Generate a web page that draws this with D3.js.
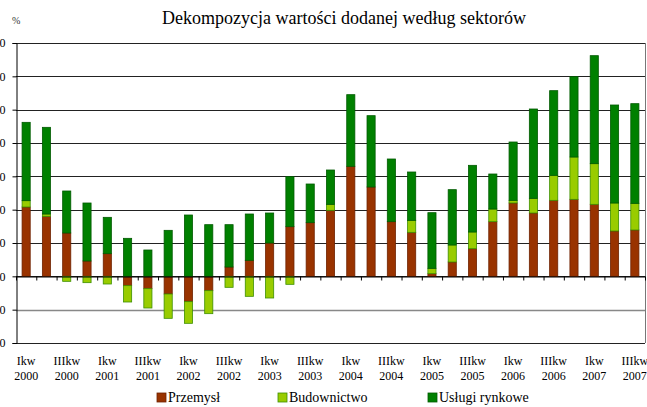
<!DOCTYPE html>
<html>
<head>
<meta charset="utf-8">
<script src="https://cdn.jsdelivr.net/npm/d3@7"></script>
<style>
  body { margin: 0; background: #fff; }
  svg { display: block; font-family: "Liberation Serif", "DejaVu Serif", serif; }
  svg text { font-family: "Liberation Serif", "DejaVu Serif", serif; }
  .axis text { font-size: 12px; fill: #000; }
</style>
</head>
<body>
<div id="chart"></div>
<script>
// kwartaly 2000Q1 - 2007Q3
const quarters = [
  'Ikw 2000', 'IIkw 2000', 'IIIkw 2000', 'IVkw 2000',
  'Ikw 2001', 'IIkw 2001', 'IIIkw 2001', 'IVkw 2001',
  'Ikw 2002', 'IIkw 2002', 'IIIkw 2002', 'IVkw 2002',
  'Ikw 2003', 'IIkw 2003', 'IIIkw 2003', 'IVkw 2003',
  'Ikw 2004', 'IIkw 2004', 'IIIkw 2004', 'IVkw 2004',
  'Ikw 2005', 'IIkw 2005', 'IIIkw 2005', 'IVkw 2005',
  'Ikw 2006', 'IIkw 2006', 'IIIkw 2006', 'IVkw 2006',
  'Ikw 2007', 'IIkw 2007', 'IIIkw 2007'
];

const przemysl = [2.08, 1.80, 1.30, 0.46, 0.68, -0.28, -0.37, -0.53, -0.76, -0.43, 0.28,
  0.48, 1.00, 1.49, 1.61, 1.98, 3.30, 2.68, 1.64, 1.32, 0.08, 0.43, 0.83, 1.64, 2.20,
  1.90, 2.28, 2.31, 2.16, 1.36, 1.39];
const budownictwo = [0.19, 0.07, -0.15, -0.19, -0.23, -0.49, -0.58, -0.73, -0.65, -0.69, -0.33,
  -0.60, -0.65, -0.24, 0.00, 0.18, 0.00, 0.00, 0.00, 0.36, 0.16, 0.51, 0.50, 0.38, 0.08,
  0.44, 0.75, 1.27, 1.22, 0.84, 0.80];
const uslugi = [2.35, 2.60, 1.26, 1.74, 1.09, 1.14, 0.79, 1.38, 1.84, 1.55, 1.27,
  1.39, 0.90, 1.50, 1.16, 1.03, 2.15, 2.14, 1.88, 1.45, 1.67, 1.66, 2.00, 1.05, 1.75,
  2.68, 2.54, 2.41, 3.24, 2.94, 2.99];

const seriesNames = ['Przemysł', 'Budownictwo', 'Usługi rynkowe'];
const yTicks = [-2, -1, 0, 1, 2, 3, 4, 5, 6, 7];

const colors = { 'Przemysł': '#993300', 'Budownictwo': '#99cc00', 'Usługi rynkowe': '#008000' };
const strokes = { 'Przemysł': '#6e2200', 'Budownictwo': '#3d8f00', 'Usługi rynkowe': '#005a00' };

const width = 647, height = 407;
const plot = { left: 16, right: 645, top: 43, bottom: 343 };

const svg = d3.select('#chart').append('svg')
  .attr('width', width)
  .attr('height', height);

const rows = quarters.map((q, i) => ({
  q: q,
  'Przemysł': przemysl[i],
  'Budownictwo': budownictwo[i],
  'Usługi rynkowe': uslugi[i]
}));

const stacked = d3.stack()
  .keys(seriesNames)
  .offset(d3.stackOffsetDiverging)(rows);

const x = d3.scaleBand()
  .domain(quarters)
  .range([plot.left, plot.right])
  .paddingInner(0.55)
  .paddingOuter(0.275);

const xEdges = d3.scaleLinear()
  .domain([0, quarters.length])
  .range([plot.left, plot.right]);

const y = d3.scaleLinear()
  .domain([-2, 7])
  .range([plot.bottom, plot.top]);

// title + unit
svg.append('text')
  .attr('x', 344)
  .attr('y', 24)
  .attr('text-anchor', 'middle')
  .style('font-size', '18px')
  .text('Dekompozycja wartości dodanej według sektorów');

svg.append('text')
  .attr('x', 12)
  .attr('y', 24)
  .style('font-size', '10px')
  .style('fill', '#333')
  .text('%');

// grid
svg.append('g')
  .selectAll('line')
  .data(yTicks)
  .join('line')
    .attr('x1', plot.left)
    .attr('x2', plot.right)
    .attr('y1', d => Math.round(y(d)) + 0.5)
    .attr('y2', d => Math.round(y(d)) + 0.5)
    .attr('stroke', d => d === -1 ? '#888' : '#222')
    .attr('stroke-width', d => d === -1 ? 1.5 : 1);

// right frame
svg.append('line')
  .attr('x1', plot.right + 0.5).attr('x2', plot.right + 0.5)
  .attr('y1', plot.top).attr('y2', plot.bottom)
  .attr('stroke', '#777');

// bars
const barGroup = svg.append('g');

barGroup.selectAll('g')
  .data(stacked)
  .join('g')
    .attr('fill', d => colors[d.key])
    .attr('stroke', d => strokes[d.key])
    .selectAll('rect')
    .data(d => d.filter(e => Math.abs(e[1] - e[0]) > 0.001))
    .join('rect')
      .attr('x', d => x(d.data.q) + 0.5)
      .attr('y', d => y(Math.max(d[0], d[1])))
      .attr('width', x.bandwidth() - 1)
      .attr('height', d => Math.abs(y(d[0]) - y(d[1])))
      .attr('stroke-width', 0.8);

// y axis
const yAxis = d3.axisLeft(y)
  .tickValues(yTicks)
  .tickSize(4)
  .tickPadding(7)
  .tickFormat(d => d3.format('.1f')(d).replace('.', ','));

svg.append('g')
  .attr('class', 'axis y-axis')
  .attr('transform', `translate(${plot.left + 0.5},0)`)
  .call(yAxis)
  .call(g => g.selectAll('.tick line').attr('stroke', '#000'))
  .call(g => g.select('.domain').attr('stroke', '#000'));

// zero line ticks at band edges
const zeroAxis = d3.axisBottom(xEdges)
  .tickValues(d3.range(0, quarters.length + 1))
  .tickSize(4)
  .tickSizeOuter(0)
  .tickFormat('');

svg.append('g')
  .attr('class', 'axis x-axis')
  .attr('transform', `translate(0,${Math.round(y(0)) + 0.5})`)
  .call(zeroAxis)
  .call(g => g.selectAll('.tick line').attr('stroke', '#000'))
  .call(g => g.select('.domain').attr('stroke', '#000'));

// x labels, every second quarter
const xLabels = svg.append('g')
  .attr('class', 'axis')
  .selectAll('text')
  .data(quarters.filter((q, i) => i % 2 === 0))
  .join('text')
    .attr('x', d => x(d) + x.bandwidth() / 2)
    .attr('y', 365)
    .attr('text-anchor', 'middle');

xLabels.append('tspan')
  .attr('x', d => x(d) + x.bandwidth() / 2)
  .text(d => d.split(' ')[0]);
xLabels.append('tspan')
  .attr('x', d => x(d) + x.bandwidth() / 2)
  .attr('dy', 15)
  .text(d => d.split(' ')[1]);

// legend
const legendX = [157, 278, 428];
const legend = svg.append('g')
  .selectAll('g')
  .data(seriesNames)
  .join('g')
    .attr('transform', (d, i) => `translate(${legendX[i]},393)`);

legend.append('rect')
  .attr('width', 9)
  .attr('height', 9)
  .attr('fill', d => colors[d])
  .attr('stroke', d => strokes[d])
  .attr('stroke-width', 0.8);

legend.append('text')
  .attr('x', 11)
  .attr('y', 9)
  .style('font-size', '14px')
  .text(d => d);
</script>
</body>
</html>
